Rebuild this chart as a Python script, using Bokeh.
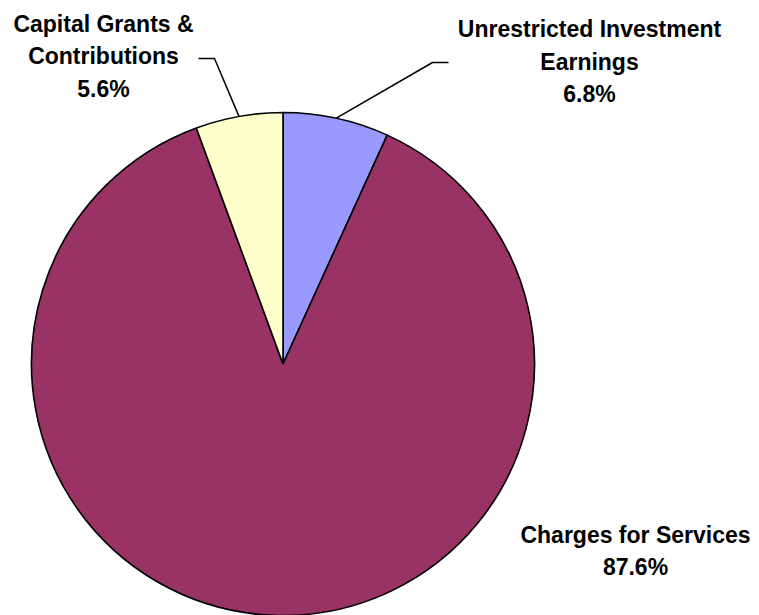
import numpy as np
from bokeh.plotting import figure
from bokeh.models import Range1d, ColumnDataSource
from bokeh.core.properties import value
from bokeh.embed import file_html
from bokeh.resources import INLINE

# ---- data ----
categories = ["Unrestricted Investment Earnings", "Charges for Services", "Capital Grants & Contributions"]
shares = [6.8, 87.6, 5.6]
colors = ["#9999FF", "#993366", "#FFFFCC"]
label_lines = [["Unrestricted Investment", "Earnings"],
               ["Charges for Services"],
               ["Capital Grants &", "Contributions"]]

# ---- layout (screen-pixel coordinates, y downward -> negative data y) ----
W, H = 759, 615
p = figure(width=W, height=H, x_range=Range1d(0, W), y_range=Range1d(-H, 0),
           output_backend="svg", toolbar_location=None, min_border=0)
p.axis.visible = False
p.grid.visible = False
p.outline_line_color = None
p.background_fill_color = "white"
p.border_fill_color = "white"

cx, cy, r = 282.5, -363.5, 251.5
fr = np.array(shares) / sum(shares)
cum = np.concatenate([[0.0], np.cumsum(fr)])
start = np.pi / 2 - cum[1:] * 2 * np.pi
end = np.pi / 2 - cum[:-1] * 2 * np.pi
src = ColumnDataSource(dict(start=start, end=end, color=colors, cat=categories))
p.wedge(x=cx, y=cy, radius=r, start_angle="start", end_angle="end",
        fill_color="color", line_color="black", line_width=1.6, source=src)

# leader lines for the two small slices
mid = (start + end) / 2
leaders = {0: (432, 448, -62), 2: (214, 198, -58)}
for i, (kx, hx, ky) in leaders.items():
    ex = cx + r * np.cos(mid[i])
    ey = cy + r * np.sin(mid[i])
    p.line(x=[ex, kx, hx], y=[ey, ky, ky], line_color="black", line_width=1.5)

# labels
label_x = [589, 635, 103]
label_y0 = [28.5, 534, 23]
spacing = 32.5
for i in range(len(categories)):
    lines = label_lines[i] + [f"{shares[i]:.1f}%"]
    ys = [-(label_y0[i] + k * spacing) for k in range(len(lines))]
    p.text(x=[label_x[i]] * len(lines), y=ys, text=lines,
           text_font=value("Liberation Sans"), text_font_style="bold",
           text_font_size="23px", text_align="center", text_baseline="middle",
           text_color="black")

open("out.html", "w").write(file_html(p, INLINE))
